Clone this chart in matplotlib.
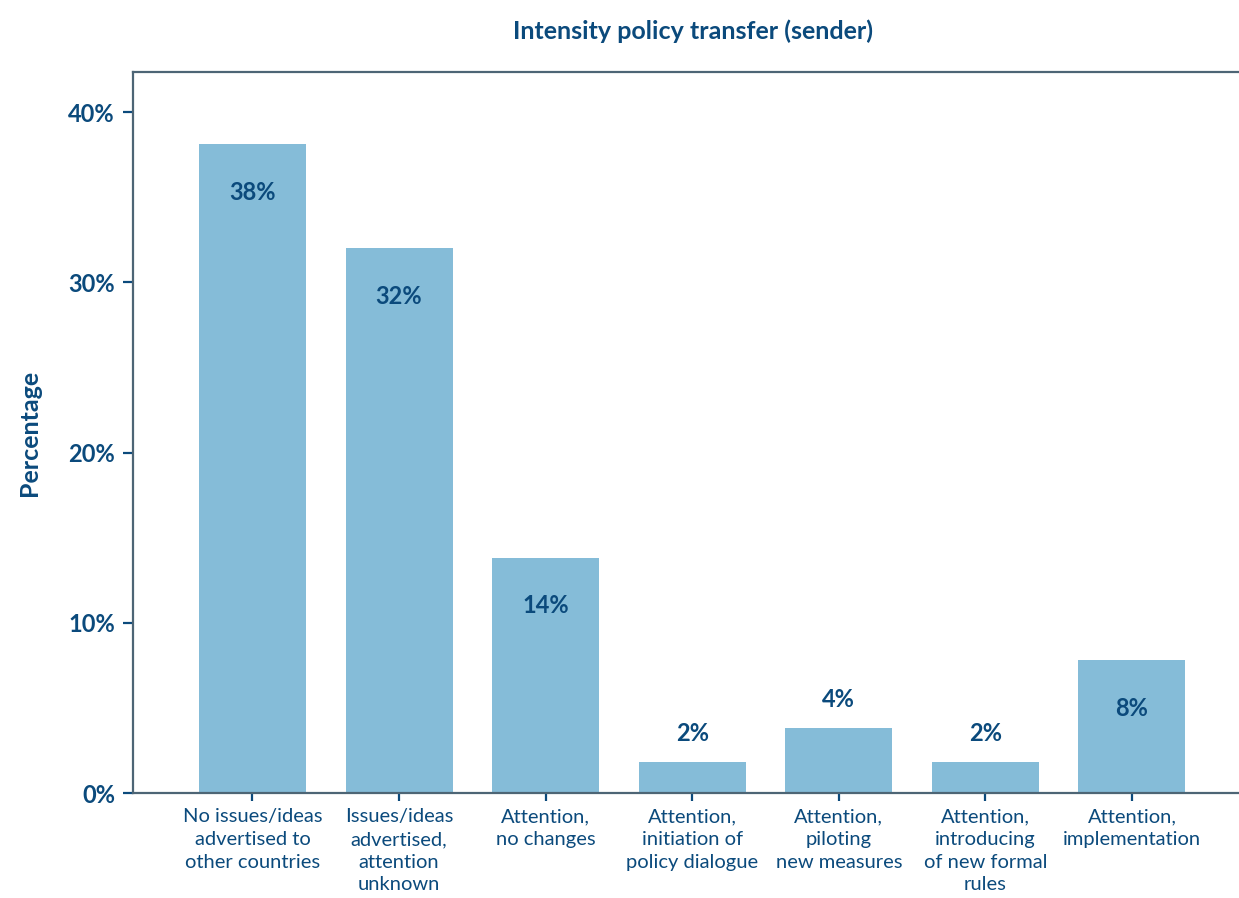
import matplotlib.pyplot as plt

# Daten
categories = ['No issues/ideas\nadvertised to\nother countries',
              'Issues/ideas\nadvertised,\nattention\nunknown',
              'Attention,\nno changes',
              'Attention,\ninitiation of\npolicy dialogue',
              'Attention,\npiloting\nnew measures',
              'Attention,\nintroducing\nof new formal\nrules',
              'Attention,\nimplementation']
values = [38.1, 32.0, 13.8, 1.8, 3.8, 1.8, 7.8]
value_labels = ['38%', '32%', '14%', '2%', '4%', '2%', '8%']
y_ticks = [0, 10, 20, 30, 40]
y_tick_labels = ['0%', '10%', '20%', '30%', '40%']

text_col = '#0b4a7c'
bar_col = '#85bcd8'
spine_col = '#4d6575'

plt.rcParams['font.family'] = ['Lato', 'DejaVu Sans']

fig = plt.figure(figsize=(12.39, 8.98), dpi=100)
ax = fig.add_axes([0.1073, 0.1169, 0.8927, 0.8029])

x = range(len(categories))
ax.bar(x, values, width=0.73, color=bar_col, zorder=2)

# Beschriftung: groß -> innen, klein -> oben
for i, (v, lab) in enumerate(zip(values, value_labels)):
    dy = -34.5 if v >= 5 else 21
    ax.annotate(lab, (i, v), xytext=(0, dy), textcoords='offset points',
                ha='center', va='center', fontsize=17, fontweight='bold', color=text_col)

ax.set_xlim(-0.815, 6.73)
ax.set_ylim(0, 42.35)
ax.set_xticks(list(x))
ax.set_xticklabels(categories, fontsize=14.5, color=text_col, linespacing=1.4, va='top')
ax.set_yticks(y_ticks)
ax.set_yticklabels(y_tick_labels, fontsize=17, fontweight='bold', color=text_col)

ax.tick_params(axis='y', length=7, width=1.6, color=text_col, pad=6)
ax.tick_params(axis='x', length=6, width=1.6, color=text_col, pad=5)

for s in ['left', 'bottom', 'top']:
    ax.spines[s].set_color(spine_col)
    ax.spines[s].set_linewidth(1.6)
ax.spines['right'].set_visible(False)

ax.set_ylabel('Percentage', fontsize=18, fontweight='bold', color=text_col)
ax.yaxis.set_label_coords(-0.083, 0.5)
fig.text(0.5593, 0.965, 'Intensity policy transfer (sender)', ha='center', va='center',
         fontsize=18, fontweight='bold', color=text_col)

plt.savefig('out.png', dpi=100)
